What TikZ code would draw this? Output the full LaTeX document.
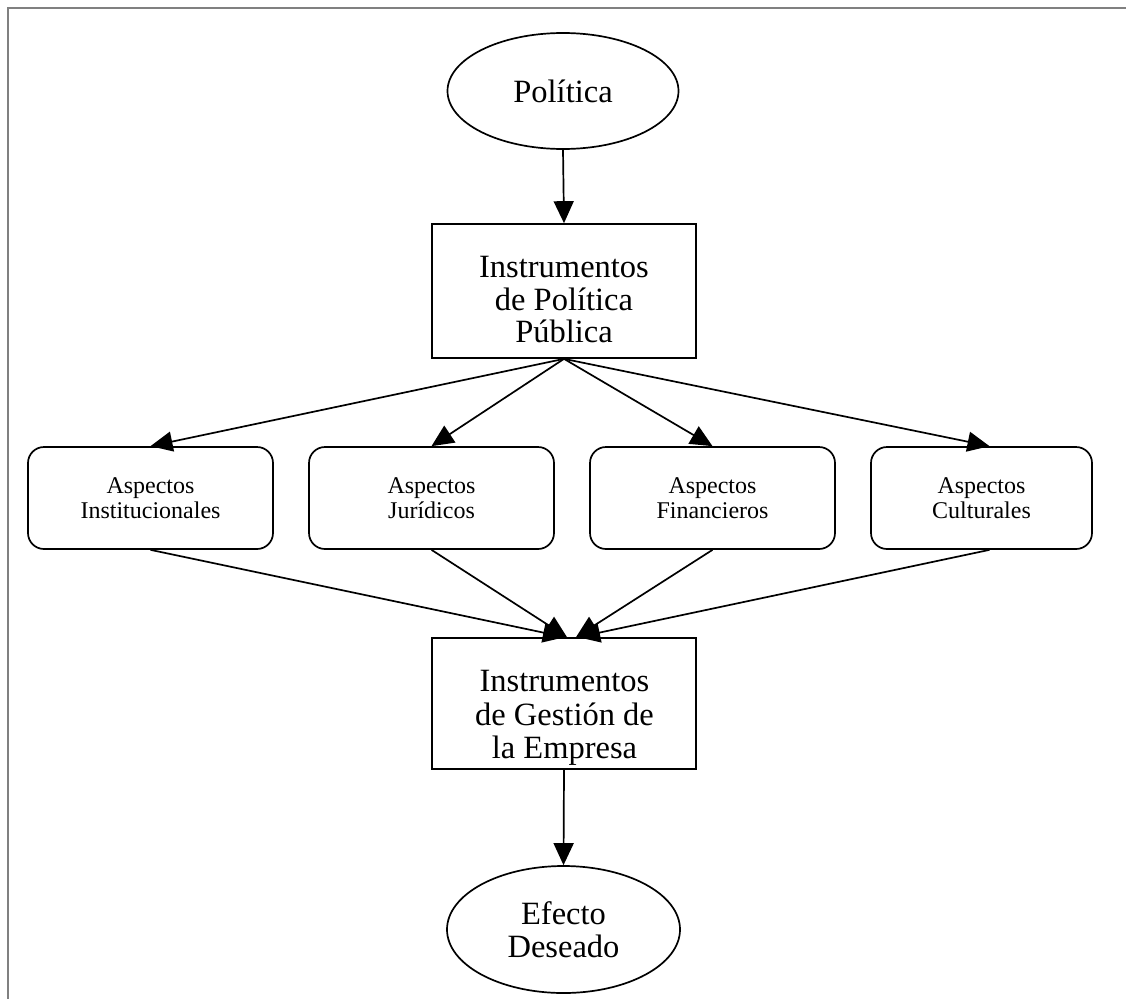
\documentclass[tikz,border=0pt]{standalone}
\usepackage{fontspec}
\setmainfont{Liberation Serif}
\usetikzlibrary{arrows.meta,shapes.geometric,calc}
\begin{document}
\begin{tikzpicture}[x=1pt,y=-1pt,
  line width=1.7pt,
  conn/.style={-{Triangle[length=22pt,width=20pt]}},
  bigtxt/.style={font=\fontsize{32.5}{32.5}\selectfont, align=center},
  smalltxt/.style={font=\fontsize{24}{25.5}\selectfont, align=center},
  oval/.style={draw, ellipse, inner sep=0pt},
  rect/.style={draw, rectangle, inner sep=0pt},
  aspbox/.style={draw, rounded corners=16pt, inner sep=0pt, minimum height=102pt, minimum width=245pt, smalltxt}]
\useasboundingbox (0,0) rectangle (1126,999);
\draw[gray, line width=2pt] (1126,7.5) -- (7.5,7.5) -- (7.5,999);

\node[oval, bigtxt, minimum width=231pt, minimum height=116pt] (pol) at (563,91) {Política};

\node[rect, minimum width=264pt, minimum height=134pt] (ipp) at (564,291) {};
\node[bigtxt] (ippt) at (564,300) {Instrumentos\\de Política\\Pública};

\node[aspbox] (a1) at (150.5,498) {Aspectos\\Institucionales};
\node[aspbox] (a2) at (431.5,498) {Aspectos\\Jurídicos};
\node[aspbox] (a3) at (712.5,498) {Aspectos\\Financieros};
\node[aspbox, minimum width=221pt] (a4) at (981.5,498) {Aspectos\\Culturales};

\node[rect, minimum width=264pt, minimum height=131pt] (igm) at (564,703.5) {};
\node[bigtxt, font=\fontsize{32.5}{33.5}\selectfont] (igmt) at (564.5,718) {Instrumentos\\de Gestión de\\la Empresa};

\node[oval, bigtxt, minimum width=233pt, minimum height=127pt] (eff) at (563.5,929.5) {Efecto\\Deseado};

\draw[conn] (pol.south) -- (ipp.north);
\draw[conn] (ipp.south) -- (a1.north);
\draw[conn] (ipp.south) -- (a2.north);
\draw[conn] (ipp.south) -- (a3.north);
\draw[conn] (ipp.south) -- ($(a4.north)+(8,0)$);

\coordinate (t1) at ($(igm.north)+(1,0)$);
\coordinate (t2) at ($(igm.north)+(3,0)$);
\coordinate (t3) at ($(igm.north)+(12,0)$);
\coordinate (t4) at ($(igm.north)+(14,0)$);
\draw[conn] (a1.south) -- (t1);
\draw[conn] (a2.south) -- (t2);
\draw[conn] (a3.south) -- (t3);
\draw[conn] ($(a4.south)+(8,0)$) -- (t4);

\draw[conn] (igm.south) -- (eff.north);
\end{tikzpicture}
\end{document}
